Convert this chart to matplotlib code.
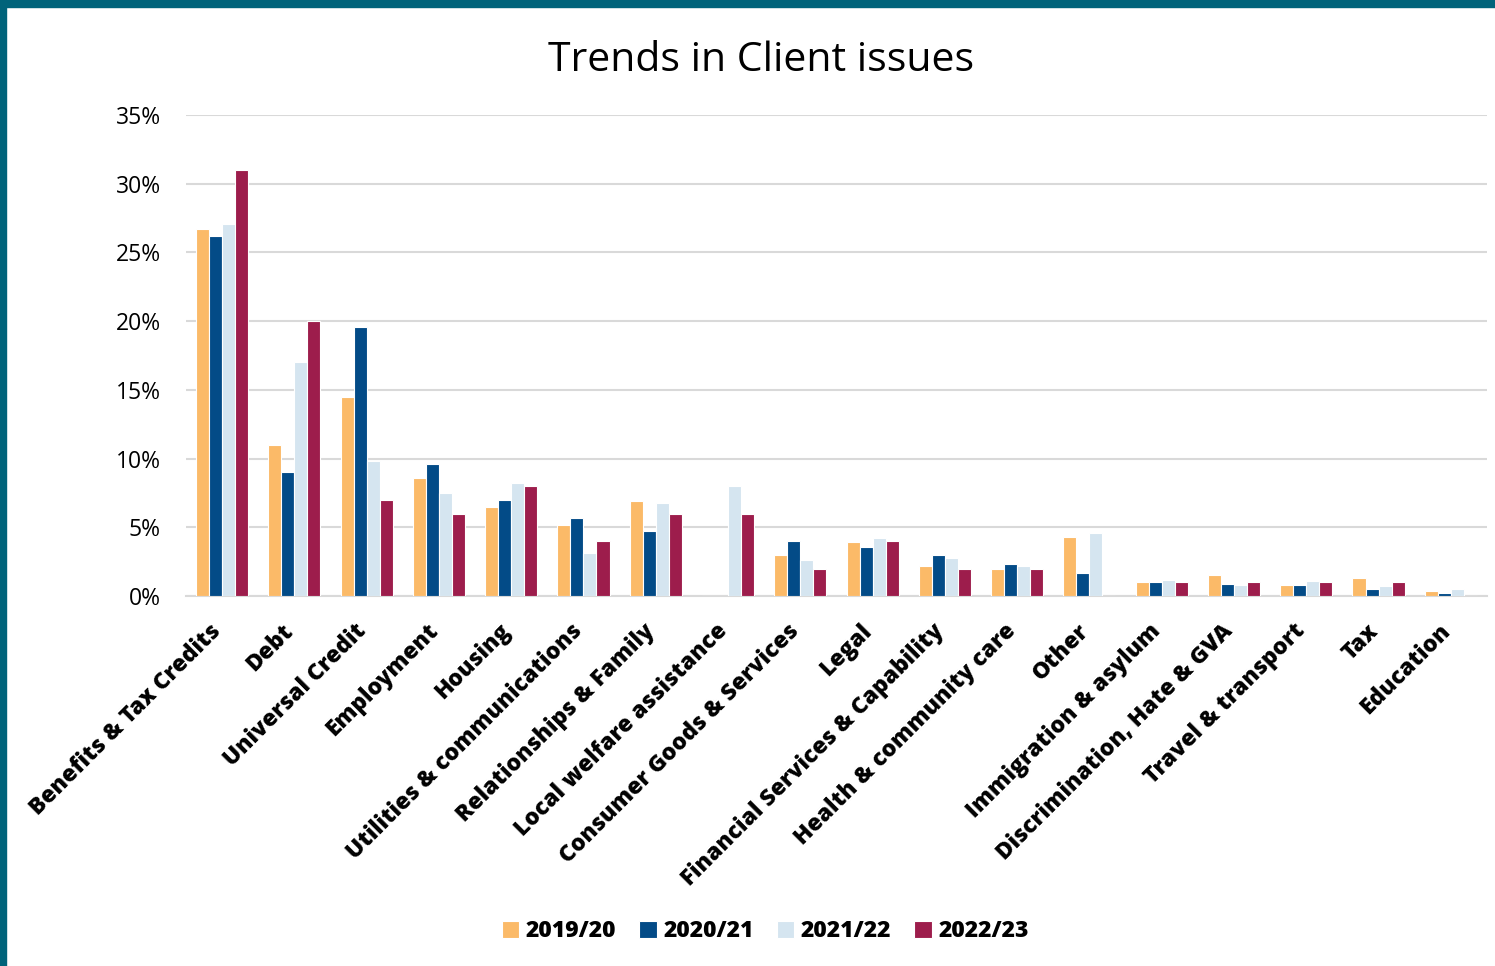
import matplotlib.pyplot as plt
import numpy as np
from matplotlib.patches import Rectangle

plt.rcParams["font.family"] = ["Open Sans", "DejaVu Sans"]

categories = [
    "Benefits & Tax Credits", "Debt", "Universal Credit", "Employment", "Housing",
    "Utilities & communications", "Relationships & Family", "Local welfare assistance",
    "Consumer Goods & Services", "Legal", "Financial Services & Capability",
    "Health & community care", "Other", "Immigration & asylum",
    "Discrimination, Hate & GVA", "Travel & transport", "Tax", "Education",
]
years = ["2019/20", "2020/21", "2021/22", "2022/23"]

v_2019 = [26.7, 11.0, 14.5, 8.6, 6.5, 5.2, 6.9, 0.0, 3.0, 3.9, 2.2, 2.0, 4.3, 1.0, 1.5, 0.8, 1.3, 0.4]
v_2020 = [26.2, 9.0, 19.6, 9.6, 7.0, 5.7, 4.7, 0.0, 4.0, 3.6, 3.0, 2.3, 1.7, 1.0, 0.9, 0.8, 0.5, 0.2]
v_2021 = [27.1, 17.0, 9.8, 7.5, 8.2, 3.1, 6.8, 8.0, 2.6, 4.2, 2.8, 2.2, 4.6, 1.2, 0.8, 1.1, 0.7, 0.5]
v_2022 = [31.0, 20.0, 7.0, 6.0, 8.0, 4.0, 6.0, 6.0, 2.0, 4.0, 2.0, 2.0, 0.0, 1.0, 1.0, 1.0, 1.0, 0.0]

series = [v_2019, v_2020, v_2021, v_2022]
colors = ["#FBBA68", "#034B87", "#D5E5F0", "#9D1D4C"]

fig = plt.figure(figsize=(14.95, 9.66), dpi=100)
ax = fig.add_axes([0.1244, 0.383, 0.8702, 0.498])

x = np.arange(len(categories))
w = 0.18
for i, (vals, col, lab) in enumerate(zip(series, colors, years)):
    ax.bar(x + (i - 1.5) * w, vals, width=w, color=col, edgecolor="white",
           linewidth=0.8, label=lab, zorder=3)

ax.set_xlim(-0.5, len(categories) - 0.5)
ax.set_ylim(0, 35)
ax.set_yticks(np.arange(0, 36, 5))
ax.set_yticklabels([f"{t}%" for t in range(0, 36, 5)], fontsize=16.5)
ax.grid(axis="y", color="#D9D9D9", linewidth=1.5, zorder=0)
ax.tick_params(axis="y", length=0, pad=18)
ax.tick_params(axis="x", length=0, pad=26)
ax.set_xticks(x)
ax.set_xticklabels(categories, rotation=45, ha="right", va="baseline",
                   rotation_mode="anchor", fontsize=16.5, fontweight=800)
for s in ["top", "right", "left"]:
    ax.spines[s].set_visible(False)
ax.spines["bottom"].set_color("#D9D9D9")
ax.spines["bottom"].set_linewidth(1.5)

fig.text(0.509, 0.937, "Trends in Client issues", ha="center", va="center", fontsize=29.5)

ax.legend(loc="center", bbox_to_anchor=(0.512, 0.036), bbox_transform=fig.transFigure,
          ncol=4, frameon=False, prop={"size": 16.5, "weight": 800},
          handlelength=0.75, handleheight=0.75, handletextpad=0.3, columnspacing=1.0)

# teal frame on the top and left edges
fig.patches.append(Rectangle((0, 1 - 7 / 966), 1, 7 / 966, transform=fig.transFigure,
                             color="#00637A", zorder=10))
fig.patches.append(Rectangle((0, 0), 6 / 1495, 1, transform=fig.transFigure,
                             color="#00637A", zorder=10))

fig.savefig("out.png", dpi=100)
